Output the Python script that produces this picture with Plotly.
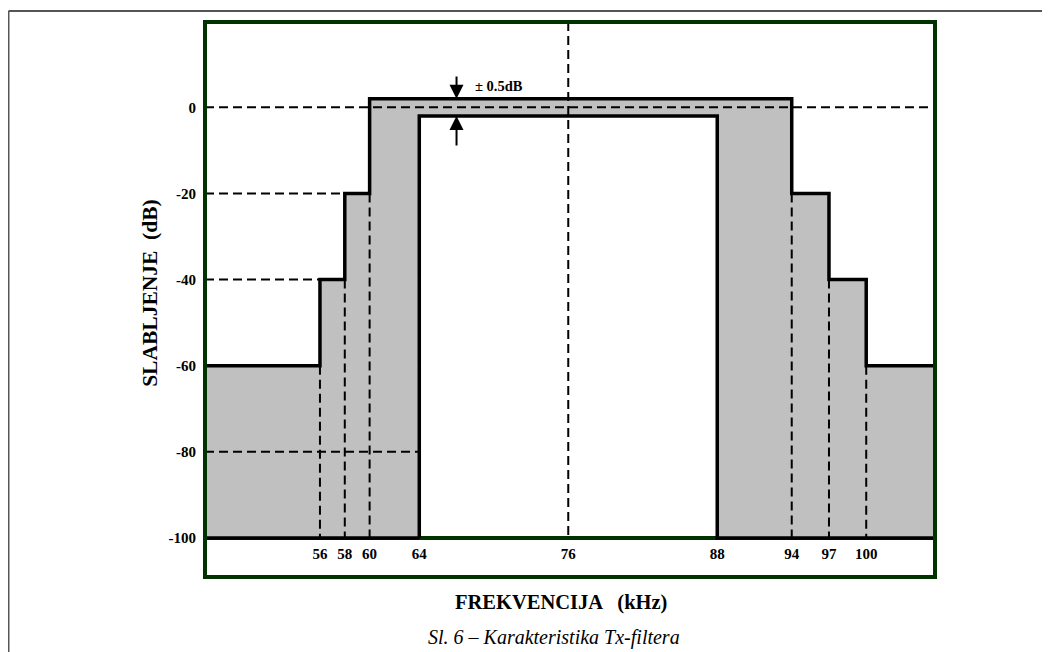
import plotly.graph_objects as go

# ---------------- data ----------------
freq_ticks = [56, 58, 60, 64, 76, 88, 94, 97, 100]
tick_labels = ["56", "58", "60", "64", "76", "88", "94", "97", "100"]
db_ticks = [0, -20, -40, -60, -80, -100]
db_labels = ["0", "-20", "-40", "-60", "-80", "-100"]

# stop-band mask (grey area): step edges (kHz) and levels (dB) between them
mask_edges = [56, 58, 60, 94, 97, 100]
mask_levels = [-60, -40, -20, 2, -20, -40, -60]
pass_lo, pass_hi = 64, 88          # pass band (kHz)
pass_level = -2                    # pass-band top (dB, as drawn)
floor_db = -100
freq_min, freq_max = 46.74, 105.54  # visible frequency span (kHz)
db_min, db_max = -109.05, 19.8      # visible attenuation span (dB)

# dashed guide lines
h_guide_db = [0, -20, -40, -80]
h_guide_end = [freq_max, 58, 56, 64]
v_guide_f = [56, 58, 60, 76, 94, 97, 100]
v_guide_top = [-60, -40, -20, db_max, -20, -40, -60]

# tolerance arrows
tol_freq = 67
tol_tail_top = 7.5
tol_tail_bot = -9.2
tol_text = "± 0.5dB"

# ---------------- figure ----------------
SERIF = "Liberation Serif, Times New Roman, serif"
GREEN = "#013301"

xs = [pass_lo, freq_min, freq_min]
ys = [floor_db, floor_db, mask_levels[0]]
for i, e in enumerate(mask_edges):
    xs += [e, e]
    ys += [mask_levels[i], mask_levels[i + 1]]
xs += [freq_max, freq_max, pass_hi, pass_hi, pass_lo, pass_lo]
ys += [mask_levels[-1], floor_db, floor_db, pass_level, pass_level, floor_db]

fig = go.Figure()
fig.add_trace(go.Scatter(x=xs, y=ys, mode="lines", fill="toself",
                         fillcolor="#c0c0c0",
                         line=dict(color="black", width=3.5),
                         hoverinfo="skip"))

dash = "9px,5px"
for lvl, end in zip(h_guide_db, h_guide_end):
    fig.add_trace(go.Scatter(x=[freq_min, end], y=[lvl, lvl], mode="lines",
                             line=dict(color="black", width=2, dash=dash),
                             hoverinfo="skip"))
for f, top in zip(v_guide_f, v_guide_top):
    fig.add_trace(go.Scatter(x=[f, f], y=[top, floor_db], mode="lines",
                             line=dict(color="black", width=2, dash=dash),
                             hoverinfo="skip"))

shapes = [
    # green base line at -100 dB
    dict(type="line", xref="x", yref="y", x0=freq_min, x1=freq_max,
         y0=floor_db, y1=floor_db, line=dict(color=GREEN, width=4), layer="below"),
    # green plot frame
    dict(type="rect", xref="paper", yref="paper", x0=0, x1=1, y0=0, y1=1,
         line=dict(color=GREEN, width=4)),
    # outer page frame (top and left edges)
    dict(type="line", xref="paper", yref="paper", x0=-0.2692, x1=1.3,
         y0=1.0198, y1=1.0198, line=dict(color="#555555", width=2)),
    dict(type="line", xref="paper", yref="paper", x0=-0.2692, x1=-0.2692,
         y0=1.0198, y1=-0.3, line=dict(color="#555555", width=2)),
]

annotations = [
    dict(x=tol_freq, y=mask_levels[3], ax=tol_freq, ay=tol_tail_top,
         xref="x", yref="y", axref="x", ayref="y", text="", showarrow=True,
         arrowhead=2, arrowsize=1.4, arrowwidth=2, arrowcolor="black"),
    dict(x=tol_freq, y=pass_level, ax=tol_freq, ay=tol_tail_bot,
         xref="x", yref="y", axref="x", ayref="y", text="", showarrow=True,
         arrowhead=2, arrowsize=1.4, arrowwidth=2, arrowcolor="black"),
    dict(x=tol_freq, y=tol_tail_top - 2.5, xref="x", yref="y", text=tol_text,
         showarrow=False, xanchor="left", yanchor="middle", xshift=16,
         font=dict(family=SERIF, size=14.5, color="black", weight="bold")),
    dict(x=-0.0753, y=0.512, xref="paper", yref="paper", text="SLABLJENJE  (dB)",
         textangle=-90, showarrow=False, xanchor="center", yanchor="middle",
         font=dict(family=SERIF, size=21.5, color="black", weight="bold")),
    dict(x=0.4877, y=-0.0468, xref="paper", yref="paper",
         text="FREKVENCIJA   (kHz)", showarrow=False,
         xanchor="center", yanchor="middle",
         font=dict(family=SERIF, size=20.5, color="black", weight="bold")),
    dict(x=0.478, y=-0.1099, xref="paper", yref="paper",
         text="Sl. 6 – Karakteristika Tx-filtera", showarrow=False,
         xanchor="center", yanchor="middle",
         font=dict(family=SERIF, size=20, color="black", style="italic")),
]

# the page body adds an 8 px offset, so the figure is 8 px smaller and margins shifted
fig.update_layout(
    width=1042, height=644,
    margin=dict(l=197, r=115, t=14, b=75),
    paper_bgcolor="white", plot_bgcolor="white",
    showlegend=False,
    shapes=shapes, annotations=annotations,
    xaxis=dict(range=[freq_min, freq_max], tickmode="array",
               tickvals=freq_ticks, ticktext=tick_labels,
               showgrid=False, zeroline=False, showline=False, ticks="",
               anchor="free",
               position=(floor_db - db_min) / (db_max - db_min),
               ticklabelstandoff=5,
               tickfont=dict(family=SERIF, size=15, color="black", weight="bold")),
    yaxis=dict(range=[db_min, db_max], tickmode="array",
               tickvals=db_ticks, ticktext=db_labels,
               showgrid=False, zeroline=False, showline=False, ticks="",
               ticklabelstandoff=8,
               tickfont=dict(family=SERIF, size=15, color="black", weight="bold")),
)

fig.write_html("out.html")
